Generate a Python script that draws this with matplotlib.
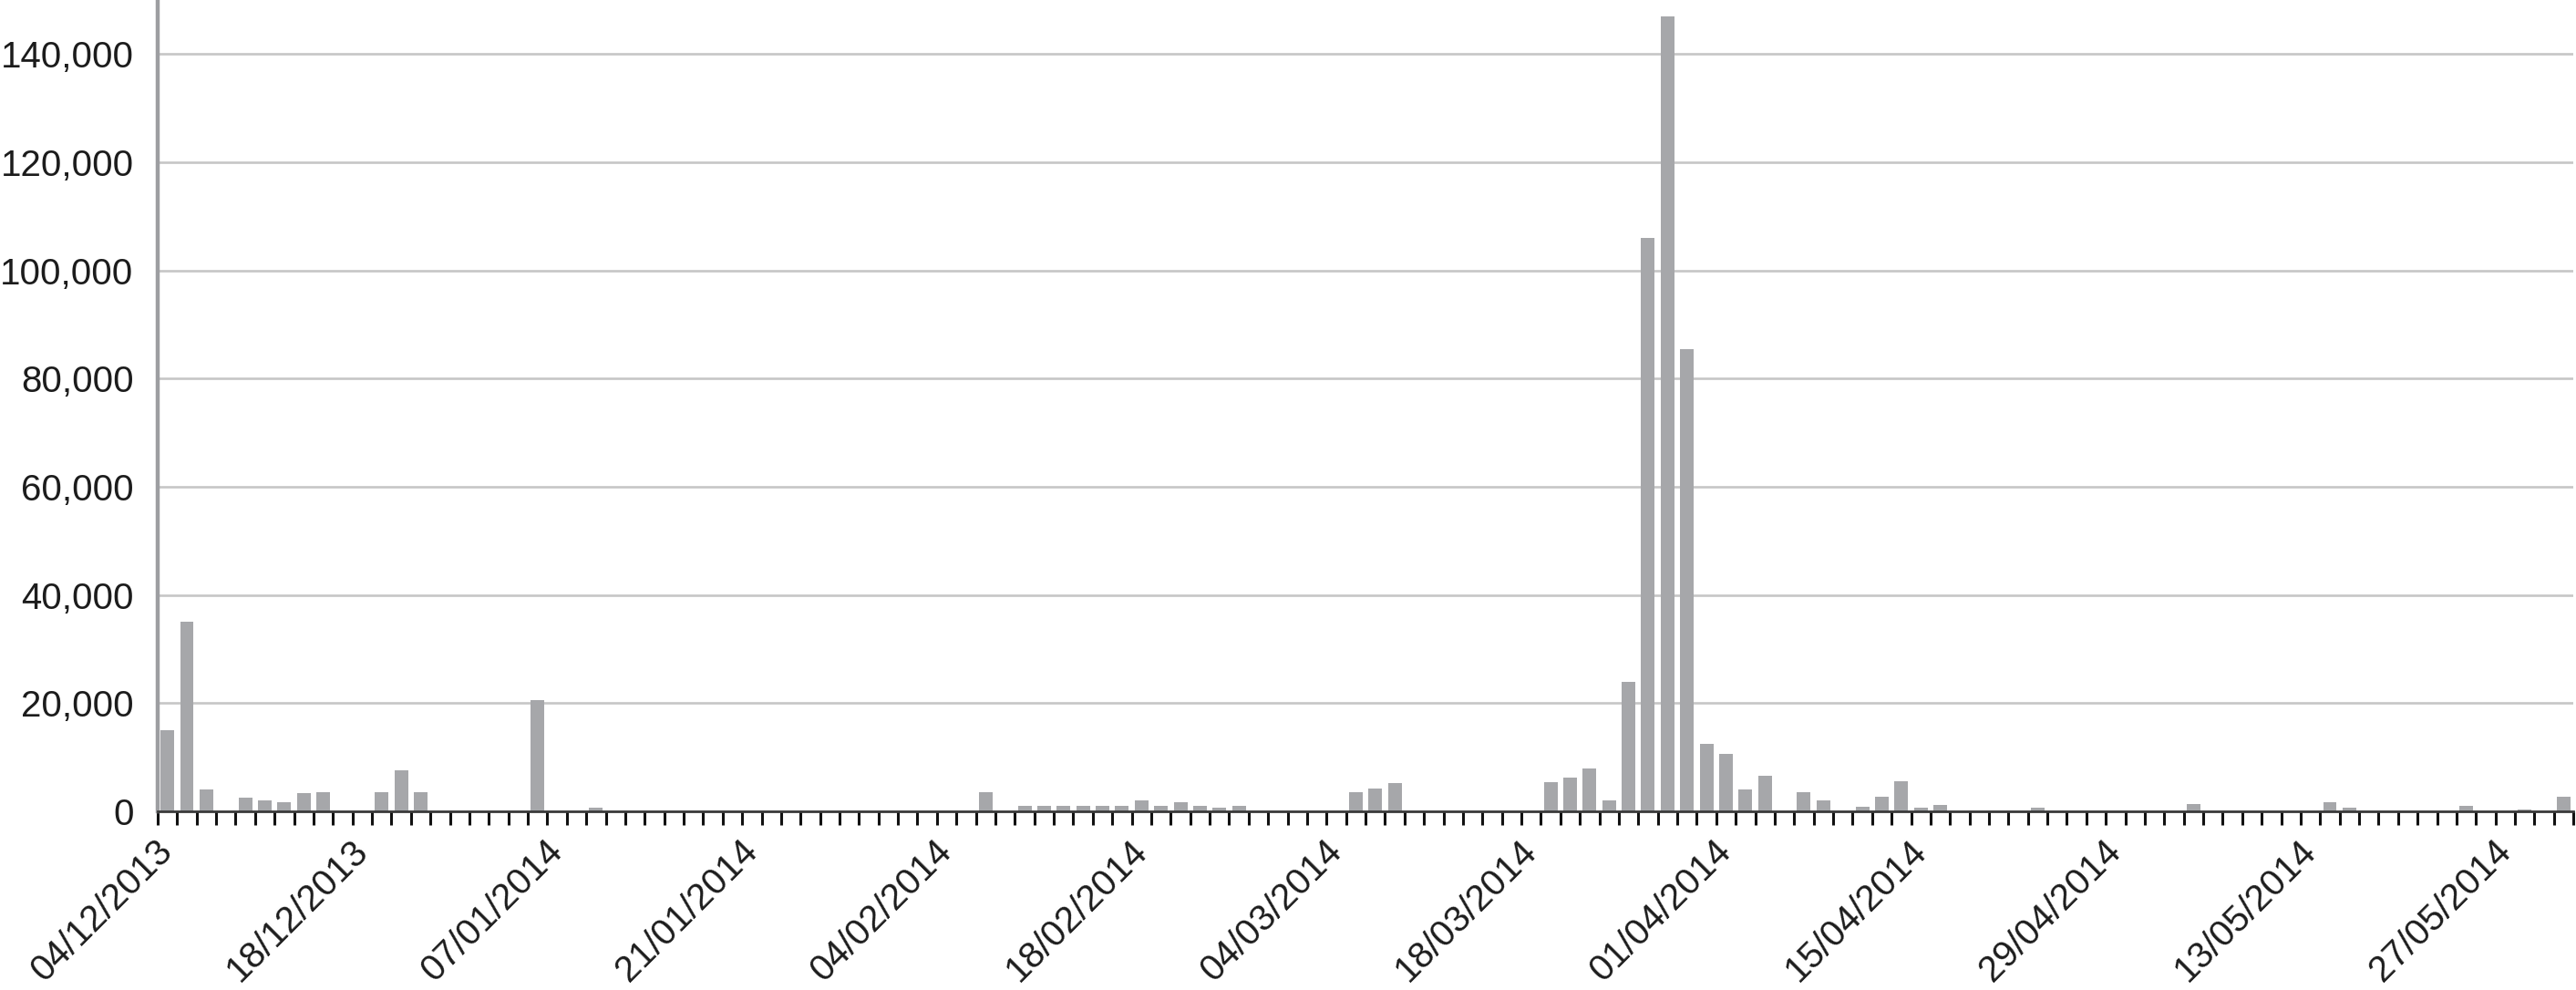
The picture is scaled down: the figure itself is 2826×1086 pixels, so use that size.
#!/usr/bin/env python3
"""
Daily counts bar chart, 04/12/2013 - end of May 2014.
One bar per trading day, a date label every 10th bar.
"""
import numpy as np

import matplotlib
matplotlib.use('Agg')
import matplotlib.pyplot as plt
from matplotlib.ticker import FuncFormatter, MultipleLocator

# labels shown under every 10th bar
tick_labels = [
    '04/12/2013', '18/12/2013', '07/01/2014', '21/01/2014', '04/02/2014',
    '18/02/2014', '04/03/2014', '18/03/2014', '01/04/2014', '15/04/2014',
    '29/04/2014', '13/05/2014', '27/05/2014',
]
label_step = 10

# daily values
values = [
    15000, 35000, 4000, 0, 2600, 2100, 1600, 3400, 3500, 0,          # 0-9
    0, 3600, 7500, 3600, 0, 0, 0, 0, 0, 20500,                       # 10-19
    0, 0, 600, 0, 0, 0, 0, 0, 0, 0,                                  # 20-29
    0, 0, 0, 0, 0, 0, 0, 0, 0, 0,                                    # 30-39
    0, 0, 3600, 0, 1000, 1000, 1000, 1000, 1000, 1000,               # 40-49
    2100, 1000, 1600, 1000, 700, 1000, 0, 0, 0, 0,                   # 50-59
    0, 3600, 4200, 5300, 0, 0, 0, 0, 0, 0,                           # 60-69
    0, 5400, 6200, 8000, 2100, 24000, 106000, 147000, 85500, 12500,  # 70-79
    10600, 4000, 6600, 0, 3600, 2100, 0, 800, 2700, 5600,            # 80-89
    600, 1100, 0, 0, 0, 0, 700, 0, 0, 0,                             # 90-99
    0, 0, 0, 0, 1300, 0, 0, 0, 0, 0,                                 # 100-109
    0, 1600, 600, 0, 0, 0, 0, 0, 1000, 0,                            # 110-119
    0, 300, 0, 2700,                                                 # 120-123
]

BAR_COLOR = '#a6a7aa'
GRID_COLOR = '#c6c6c6'
TEXT_COLOR = '#1c1c1c'
FONT = 'Liberation Sans'


def main():
    fig = plt.figure(figsize=(28.26, 10.86), dpi=100)
    ax = fig.add_axes([0.0612, 0.1805, 0.9378, 0.8195])

    x = np.arange(len(values))
    ax.bar(x, values, width=0.7, color=BAR_COLOR, zorder=2)

    ax.set_xlim(-0.5, len(values) - 0.5)
    ax.set_ylim(0, 150000)

    # y axis: plain numbers with thousands separator, horizontal grid
    ax.yaxis.set_major_locator(MultipleLocator(20000))
    ax.yaxis.set_major_formatter(FuncFormatter(lambda v, _: f'{v:,.0f}'))
    ax.grid(axis='y', color=GRID_COLOR, linewidth=1.9, zorder=0)
    ax.set_axisbelow(True)
    ax.tick_params(axis='y', length=0, pad=19, labelsize=29, labelcolor=TEXT_COLOR)

    # x axis: tick marks between bars, rotated date labels every 10 bars
    label_pos = np.arange(0, len(values), label_step)[:len(tick_labels)]
    ax.set_xticks(label_pos, tick_labels, rotation=45, ha='right', va='center',
                  rotation_mode='anchor')
    ax.set_xticks(np.arange(-0.5, len(values) + 0.5, 1), minor=True)
    ax.tick_params(axis='x', which='major', length=0, pad=27, labelsize=29,
                   labelcolor=TEXT_COLOR)
    ax.tick_params(axis='x', which='minor', length=11, width=2.2,
                   color='#111111', direction='out')

    for lab in ax.get_xticklabels() + ax.get_yticklabels():
        lab.set_fontfamily(FONT)

    for side in ('top', 'right'):
        ax.spines[side].set_visible(False)
    ax.spines['left'].set_color('#9d9ea1')
    ax.spines['left'].set_linewidth(3.2)
    ax.spines['bottom'].set_color('#3a3a3a')
    ax.spines['bottom'].set_linewidth(2)

    fig.savefig('out.png', dpi=100)
    plt.close(fig)


if __name__ == '__main__':
    main()
